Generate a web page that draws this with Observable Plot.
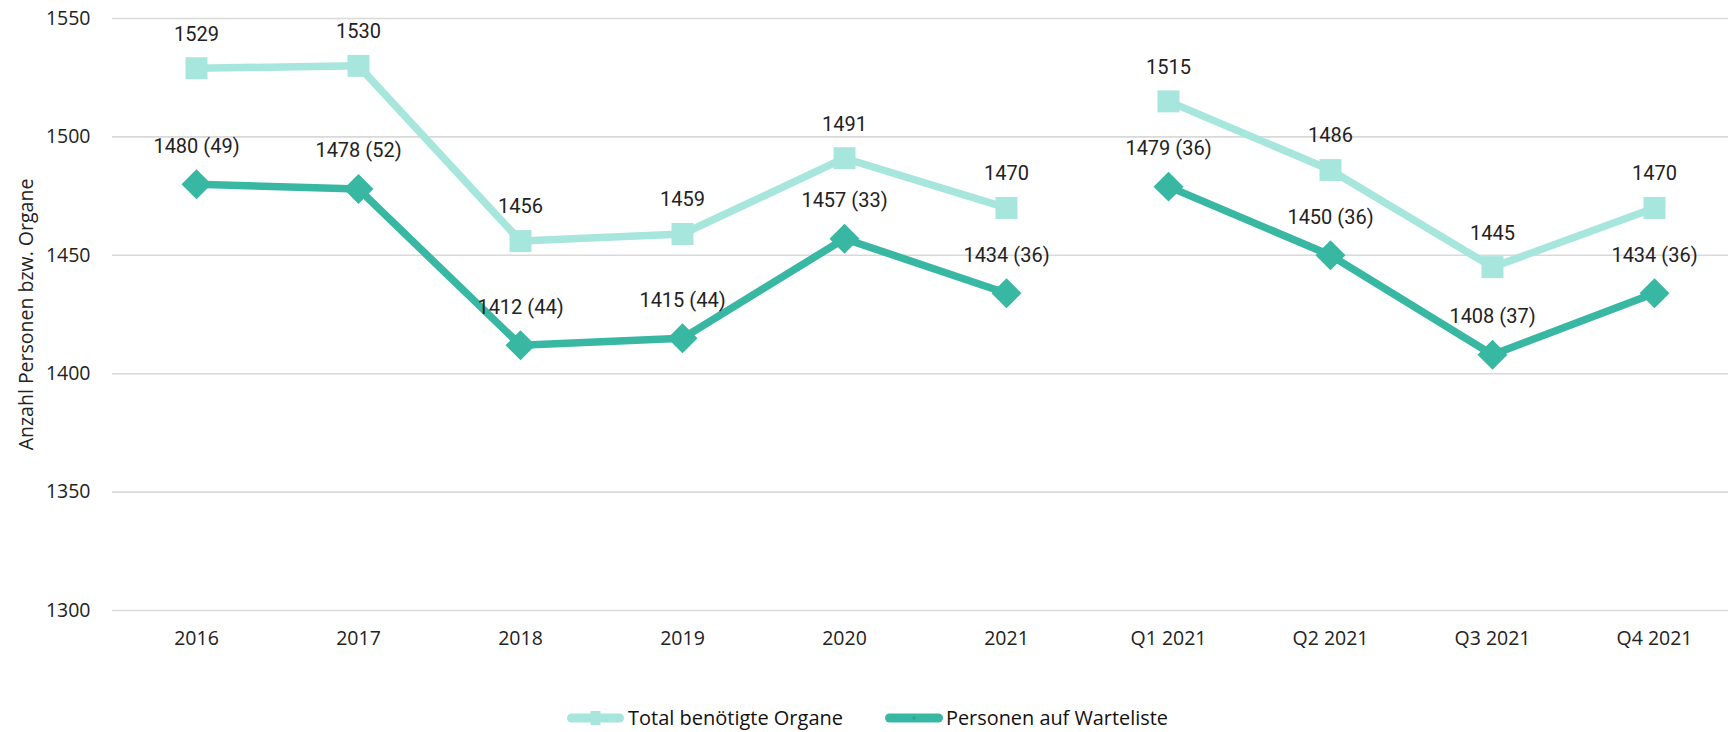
<!DOCTYPE html>
<html>
<head>
<meta charset="utf-8">
<script src="https://cdn.jsdelivr.net/npm/d3@7"></script>
<script src="https://cdn.jsdelivr.net/npm/@observablehq/plot@0.6"></script>
<style>
  html, body { margin: 0; padding: 0; background: #ffffff; overflow: hidden; }
  #chart svg, #legend svg { display: block; }
</style>
</head>
<body>
<div id="chart"></div>
<div id="legend"></div>
<script>
// ---- Data ----
const categories = ["2016", "2017", "2018", "2019", "2020", "2021", "Q1 2021", "Q2 2021", "Q3 2021", "Q4 2021"];
const segments = ["Jahr", "Jahr", "Jahr", "Jahr", "Jahr", "Jahr", "Quartal", "Quartal", "Quartal", "Quartal"];
const totalOrgane = [1529, 1530, 1456, 1459, 1491, 1470, 1515, 1486, 1445, 1470];
const personenWarteliste = [1480, 1478, 1412, 1415, 1457, 1434, 1479, 1450, 1408, 1434];
const klammerWerte = [49, 52, 44, 44, 33, 36, 36, 36, 37, 36];
const seriesNames = ["Total benötigte Organe", "Personen auf Warteliste"];
const yTicks = [1300, 1350, 1400, 1450, 1500, 1550];
const yLabel = "Anzahl Personen bzw. Organe";

// ---- Styles ----
const lightColor = "#a6e6dc";
const darkColor = "#38b7a3";

const rows = categories.map((c, i) => ({
  cat: c,
  seg: segments[i],
  total: totalOrgane[i],
  pers: personenWarteliste[i],
  klammer: klammerWerte[i]
}));

const W = 1728, H = 690, TOTAL_H = 732;

const chart = Plot.plot({
  width: W,
  height: H,
  marginLeft: 112,
  marginRight: 0,
  marginTop: 18,
  marginBottom: 80,
  style: { fontFamily: "'Open Sans', sans-serif", fontSize: "19.5px", color: "#222", background: "#fff" },
  x: { type: "point", domain: categories, range: [193, 1657], padding: 0 },
  y: { domain: [1300, 1550] },
  marks: [
    Plot.gridY(yTicks, { stroke: "#d9d9d9", strokeOpacity: 1, strokeWidth: 1.6 }),
    Plot.axisY(yTicks, { tickSize: 0, tickPadding: 22, label: null, fill: "#222", tickFormat: d => String(d) }),
    Plot.axisX({ tickSize: 0, tickPadding: 21, label: null, fill: "#222" }),
    Plot.text([yLabel], { frameAnchor: "left", textAnchor: "middle", rotate: -90, dx: -86, fontSize: 19.5, fill: "#222" }),
    // Total benötigte Organe
    Plot.line(rows, { x: "cat", y: "total", z: "seg", stroke: lightColor, strokeWidth: 7.5, strokeLinejoin: "round" }),
    Plot.dot(rows, { x: "cat", y: "total", symbol: "square", r: 12.4, fill: lightColor, stroke: null }),
    // Personen auf Warteliste
    Plot.line(rows, { x: "cat", y: "pers", z: "seg", stroke: darkColor, strokeWidth: 7.5, strokeLinejoin: "round" }),
    Plot.dot(rows, { x: "cat", y: "pers", symbol: "diamond2", r: 13.5, fill: darkColor, stroke: null }),
    // Labels
    Plot.text(rows, { x: "cat", y: "total", text: d => String(d.total), dy: -34, lineAnchor: "middle",
      fontFamily: "Roboto, sans-serif", fontSize: 20, fill: "#222" }),
    Plot.text(rows, { x: "cat", y: "pers", text: d => `${d.pers} (${d.klammer})`, dy: -38, lineAnchor: "middle",
      fontFamily: "Roboto, sans-serif", fontSize: 20, fill: "#222" })
  ]
});
document.getElementById("chart").appendChild(chart);

// ---- Legend (below the SVG chart) ----
const legendItems = [
  { name: seriesNames[0], color: lightColor, marker: "square", sx0: 567, sx1: 624, tx: 628, textLen: 215 },
  { name: seriesNames[1], color: darkColor, marker: "diamond", sx0: 885, sx1: 943, tx: 946, textLen: 222 }
];
const LH = TOTAL_H - H;
const lg = d3.create("svg").attr("width", W).attr("height", LH);
const gy = 718 - H;
legendItems.forEach(it => {
  const g = lg.append("g");
  g.append("line").attr("x1", it.sx0 + 4.5).attr("x2", it.sx1 - 4.5).attr("y1", gy).attr("y2", gy)
    .attr("stroke", it.color).attr("stroke-width", 9).attr("stroke-linecap", "round");
  const cx = (it.sx0 + it.sx1) / 2;
  if (it.marker === "square") {
    g.append("rect").attr("x", cx - 5).attr("y", gy - 7).attr("width", 10).attr("height", 14).attr("fill", it.color);
  } else {
    g.append("path").attr("d", d3.symbol(d3.symbolDiamond2, 14)()).attr("transform", `translate(${cx},${gy})`)
      .attr("fill", d3.color(it.color).darker(0.3));
  }
  g.append("text").attr("x", it.tx).attr("y", gy).attr("dy", "0.36em")
    .attr("font-family", "'Open Sans', sans-serif").attr("font-size", 20).attr("fill", "#111")
    .attr("textLength", it.textLen).attr("lengthAdjust", "spacingAndGlyphs")
    .text(it.name);
});
document.getElementById("legend").appendChild(lg.node());
</script>
</body>
</html>
